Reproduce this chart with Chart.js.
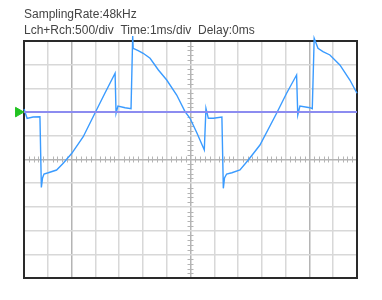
<!DOCTYPE html>
<html>
<head>
<meta charset="utf-8">
<script src="https://cdn.jsdelivr.net/npm/chart.js@4/dist/chart.umd.min.js"></script>
<style>
  body { margin: 0; background: #fff; }
</style>
</head>
<body>
<canvas id="scope" width="382" height="300"></canvas>
<script>
// captured waveform, time in ms and level in mV (500 mV/div, 1 ms/div)
const timeMs = [0, 0.13, 0.38, 0.67, 0.73, 0.78, 0.84, 1.02, 1.37, 1.65, 2.01, 2.49, 2.98, 3.40, 3.83,
    3.87, 3.95, 4.25, 4.50, 4.57, 4.59, 4.80, 5.01, 5.30, 5.65, 6.00, 6.42, 6.77, 6.98, 7.27, 7.58,
    7.65, 7.75, 7.96, 8.32, 8.38, 8.43, 8.52, 8.74, 9.08, 9.43, 9.92, 10.62, 11.04, 11.46,
    11.51, 11.60, 12.02, 12.12, 12.20, 12.36, 12.57, 12.86, 13.28, 13.70, 14.00];
const levelMv = [1066, 869, 897, 903, -591, -390, -306, -279, -222, -80, 131, 481, 975, 1397, 1819,
    975, 1129, 1093, 1072, 2606, 2346, 2296, 2241, 2135, 1888, 1677, 1361, 1009, 869, 559, 200,
    1080, 869, 869, 897, -608, -390, -306, -279, -222, -11, 306, 975, 1397, 1783,
    939, 1129, 1093, 1072, 2557, 2346, 2275, 2205, 1994, 1677, 1397];

const triggerMv = 1000;
const headerLines = ['SamplingRate:48kHz', 'Lch+Rch:500/div  Time:1ms/div  Delay:0ms'];

const voltsPerDiv = 500;
const divsX = 14;
const divsY = 10;

const wave = timeMs.map((t, i) => ({ x: t, y: levelMv[i] }));

// frame and small ticks on the centre cross
const scopeFrame = {
    id: 'scopeFrame',
    beforeDatasetsDraw(chart) {
        const ctx = chart.ctx;
        const xs = chart.scales.x;
        const ys = chart.scales.y;
        const y0 = ys.getPixelForValue(0);
        const x0 = xs.getPixelForValue(divsX / 2);
        ctx.save();
        ctx.strokeStyle = '#b4b4b4';
        ctx.lineWidth = 1;
        ctx.beginPath();
        for (let i = 1; i < divsX * 5; i++) {
            if (i % 5 == 0) continue;
            const px = Math.round(xs.getPixelForValue(i / 5)) + 0.5;
            ctx.moveTo(px, y0 - 3);
            ctx.lineTo(px, y0 + 3);
        }
        for (let i = 1; i < divsY * 5; i++) {
            if (i % 5 == 0) continue;
            const py = Math.round(ys.getPixelForValue(-2500 + i * voltsPerDiv / 5)) + 0.5;
            ctx.moveTo(x0 - 3, py);
            ctx.lineTo(x0 + 3, py);
        }
        ctx.stroke();
        const a = chart.chartArea;
        ctx.strokeStyle = '#2a2a2a';
        ctx.lineWidth = 2;
        ctx.strokeRect(a.left, a.top, a.right - a.left, a.bottom - a.top);
        ctx.restore();
    }
};

new Chart(document.getElementById('scope'), {
    type: 'scatter',
    data: {
        datasets: [
            {
                data: [{ x: 0, y: triggerMv }, { x: divsX, y: triggerMv }],
                showLine: true,
                borderColor: '#8c8cf0',
                borderWidth: 2,
                pointRadius: 0
            },
            {
                data: wave,
                showLine: true,
                borderColor: '#3a9bff',
                borderWidth: 1.4,
                pointRadius: 0,
                clip: false
            },
            {
                data: [{ x: -0.24, y: triggerMv }],
                pointStyle: 'triangle',
                rotation: 90,
                pointRadius: 5.5,
                backgroundColor: '#22c322',
                borderColor: '#22c322',
                clip: false
            }
        ]
    },
    options: {
        responsive: false,
        animation: false,
        layout: { padding: { left: 24, right: 25, top: 0, bottom: 22 } },
        plugins: {
            legend: { display: false },
            tooltip: { enabled: false },
            title: {
                display: true,
                align: 'start',
                text: headerLines,
                color: '#444',
                font: { family: 'Liberation Sans', size: 12, weight: 'normal', lineHeight: 16 / 12 },
                padding: { top: 7, bottom: 2 }
            }
        },
        scales: {
            x: {
                type: 'linear',
                min: 0,
                max: divsX,
                ticks: { display: false, stepSize: 1 },
                border: { display: false },
                grid: {
                    drawTicks: false,
                    lineWidth: 1.5,
                    color: (c) => [2, 7, 12].includes(c.tick.value) ? '#b4b4b4' : '#d8d8d8'
                }
            },
            y: {
                min: -2500,
                max: 2500,
                ticks: { display: false, stepSize: voltsPerDiv },
                border: { display: false },
                grid: {
                    drawTicks: false,
                    lineWidth: 1.5,
                    color: (c) => c.tick.value == 0 ? '#b4b4b4' : '#d8d8d8'
                }
            }
        }
    },
    plugins: [scopeFrame]
});
</script>
</body>
</html>
